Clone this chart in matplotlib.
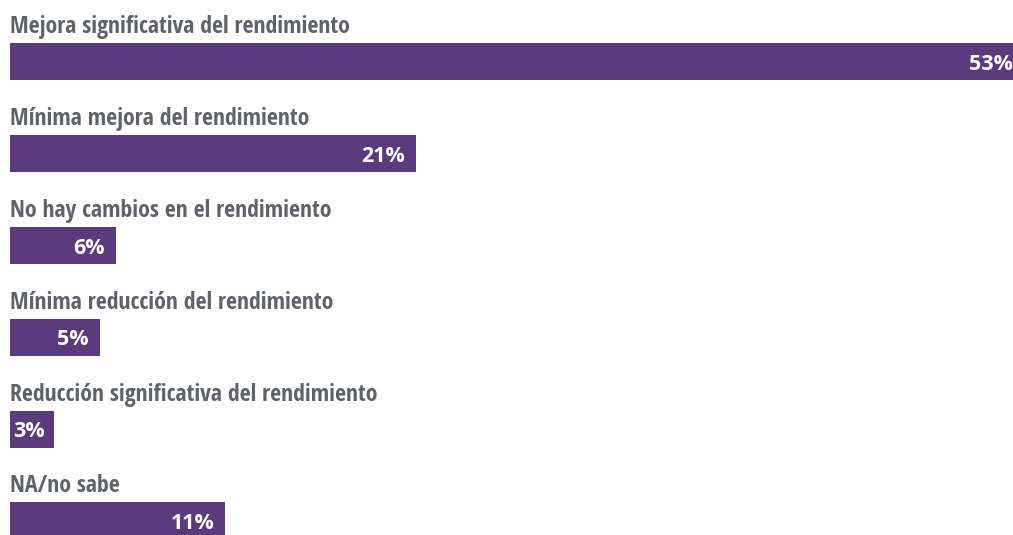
import matplotlib
matplotlib.use("Agg")
import matplotlib.pyplot as plt

categories = [
    "Mejora significativa del rendimiento",
    "Mínima mejora del rendimiento",
    "No hay cambios en el rendimiento",
    "Mínima reducción del rendimiento",
    "Reducción significativa del rendimiento",
    "NA/no sabe",
]
# bar lengths (percent)
values = [53.0, 21.22, 5.54, 4.70, 2.30, 11.24]
# value labels as printed on the bars
value_labels = ["53%", "21%", "6%", "5%", "3%", "11%"]

BAR_COLOR = "#5c3a7e"
LABEL_COLOR = "#5f6368"

W, H = 1013, 535
fig = plt.figure(figsize=(W / 100, H / 100), dpi=100)
ax = fig.add_axes([0, 0, 1, 1])
ax.set_axis_off()

px_per_unit = 1014 / 53.0
ax.set_xlim(-10 / px_per_unit, 1003 / px_per_unit)
spacing = 91.8
ax.set_ylim((H - 62) / spacing, -62 / spacing)

bar_h = 37 / spacing
ys = list(range(len(categories)))
ax.barh(ys, values, height=bar_h, color=BAR_COLOR, left=0)

pt = 72 / 100  # points per pixel
for y, cat, v, lab in zip(ys, categories, values, value_labels):
    ax.annotate(cat, xy=(0, y - bar_h / 2), xytext=(0, 10 * pt),
                textcoords="offset points", ha="left", va="baseline",
                fontsize=17.1, fontweight="bold", color=LABEL_COLOR,
                family="Open Sans Condensed", annotation_clip=False)
    if v * px_per_unit > 60:
        ax.annotate(lab, xy=(v, y), xytext=(-11 * pt, 0),
                    textcoords="offset points", ha="right", va="center_baseline",
                    fontsize=15.5, fontweight="bold", color="white",
                    family="Open Sans", annotation_clip=False)
    else:
        ax.annotate(lab, xy=(0, y), xytext=(3 * pt, 0),
                    textcoords="offset points", ha="left", va="center_baseline",
                    fontsize=15.5, fontweight="bold", color="white",
                    family="Open Sans", annotation_clip=False)

fig.savefig("out.png", dpi=100, facecolor="white")
